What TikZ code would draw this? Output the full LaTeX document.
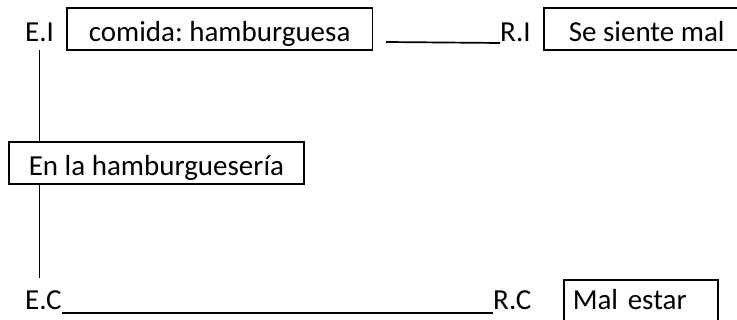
\documentclass[tikz,border=0pt]{standalone}
\usepackage{fontspec}
\setmainfont{Carlito}
\frenchspacing
\def\lblfont{\fontsize{29pt}{34pt}\selectfont}

\begin{document}
\begin{tikzpicture}[x=1pt,y=-1pt,
  lbl/.style={font=\lblfont, inner sep=0pt, anchor=base west},
  cajabox/.style={draw, line width=1.6pt, font=\lblfont, inner ysep=0pt,
    text height=34pt, text depth=8pt, anchor=base west},
  enlace/.style={line width=1.7pt}]
\useasboundingbox (0,0) rectangle (737,320);
\clip (0,0) rectangle (737,320);

% ---- fila superior: E.I / R.I
\node[lbl] (EI) at (25,42) {E.I};
\node[cajabox, inner xsep=22pt] (comida) at (66,42) {comida: hamburguesa};
\node[lbl] (RI) at (500,42) {R.I};
\node[cajabox, inner xsep=25pt] (siente) at (543,42) {Se siente mal};

% ---- caja del medio
\node[cajabox, inner xsep=20pt] (lugar) at (8,176) {En la hamburguesería};

% ---- fila inferior: E.C / R.C
\node[lbl] (EC) at (25,310) {E.C};
\node[lbl] (RC) at (493,310) {R.C};
\node[cajabox, inner xsep=9pt, text height=30pt, text depth=20pt,
      text width=136pt, align=left] (malestar) at (563,310) {Mal estar};

% ---- conectores
\draw[enlace] ([xshift=13pt]comida.east |- RI.base) -- ([yshift=-1pt]RI.base west);
\draw[enlace] ([yshift=-8pt]EI.south) -- (EI.south |- lugar.north);
\draw[enlace] (EI.south |- lugar.south) -- ([yshift=13pt]EI.south |- EC.north);
\draw[enlace] ([yshift=-3pt]EC.base east) -- ([yshift=-3pt]RC.base west);
\end{tikzpicture}
\end{document}
